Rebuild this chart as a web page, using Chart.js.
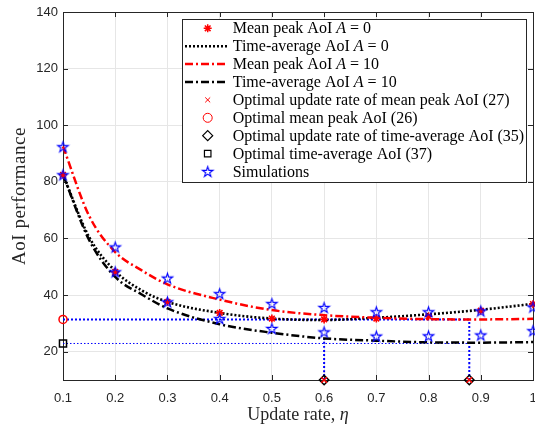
<!DOCTYPE html>
<html>
<head>
<meta charset="utf-8">
<script src="https://cdn.jsdelivr.net/npm/chart.js@4.4.1/dist/chart.umd.min.js"></script>
<style>
  html, body { margin: 0; background: #fff; }
</style>
</head>
<body>
<canvas id="aoiChart" width="535" height="426"></canvas>
<script>
// ---------- 데이터 ----------
const etaTicks = [0.1, 0.2, 0.3, 0.4, 0.5, 0.6, 0.7, 0.8, 0.9, 1.0];
const aoiTicks = [20, 40, 60, 80, 100, 120, 140];
const aoiMin = 10;
const aoiMax = 140;

// 해석 곡선
const etaCurve = [0.1, 0.15, 0.2, 0.25, 0.3, 0.4, 0.5, 0.6, 0.7, 0.8, 0.9, 1.0];
const timeAvgA0 = [82.5, 60.5, 48.5, 41.7, 37.6, 33.7, 31.7, 31.2, 32.0, 33.2, 34.8, 36.9];
const meanPeakA10 = [92.5, 68.0, 55.2, 48.8, 43.8, 38.4, 34.7, 32.9, 32.0, 31.5, 31.4, 31.6];
const timeAvgA10 = [82.5, 59.5, 46.4, 40.3, 35.3, 29.7, 26.7, 24.7, 23.9, 23.3, 23.2, 23.4];

// 마커 (A = 0 평균 peak AoI, 시뮬레이션)
const etaSim = [0.1, 0.2, 0.3, 0.4, 0.5, 0.6, 0.7, 0.8, 0.9, 1.0];
const meanPeakA0 = [82.5, 48.2, 37.6, 33.7, 31.7, 31.4, 31.7, 32.5, 34.5, 36.8];
const simUpper = [92.4, 57.0, 46.0, 40.5, 37.0, 35.6, 34.1, 34.1, 34.4, 35.8];
const simLower = [82.5, 48.2, 37.6, 31.7, 28.2, 27.0, 25.5, 25.6, 25.9, 27.4];

// 최적점 보조선
const etaOpt = [0.6, 0.878];
const dropTop = [24.7, 31.4];
const optPeakAoI = 31.4;
const optTimeAvgAoI = 22.9;

const RED = '#ff0000';
const BLUE = '#0000ff';
const INK = '#262626';
const SERIF = '"Liberation Serif", "Times New Roman", serif';

const pts = (xs, ys) => xs.map((x, i) => ({ x, y: ys[i] }));

// 오각별 마커 (Chart.js 기본 star 는 별표 모양이라 직접 그림)
function makePentagram(r) {
  const c = document.createElement('canvas');
  const s = Math.ceil(r * 2 + 4);
  c.width = s; c.height = s;
  const g = c.getContext('2d');
  g.translate(s / 2, s / 2 + r * 0.1);
  g.beginPath();
  for (let i = 0; i < 10; i++) {
    const rr = i % 2 === 0 ? r : r * 0.382;
    const a = -Math.PI / 2 + i * Math.PI / 5;
    g.lineTo(rr * Math.cos(a), rr * Math.sin(a));
  }
  g.closePath();
  g.strokeStyle = BLUE;
  g.lineWidth = 1.1;
  g.stroke();
  return c;
}
const pentagram = makePentagram(5.5);

const DOTTED = [2, 2];
const DASHDOT = [8, 3, 2, 3];

function markerSet(label, data, style, color, radius, width) {
  return {
    label, data, showLine: false, clip: false,
    pointStyle: style, pointRadius: radius, pointBorderWidth: width,
    pointBorderColor: color, pointBackgroundColor: 'rgba(0,0,0,0)',
  };
}

function lineSet(label, data, color, width, dash) {
  return {
    label, data, showLine: true, clip: false,
    borderColor: color, borderWidth: width, borderDash: dash,
    pointRadius: 0, cubicInterpolationMode: 'monotone',
  };
}

// 위에 그릴 것부터 (index 0 이 가장 위)
const datasets = [
  markerSet('opt rate peak', etaOpt.map((x) => ({ x, y: aoiMin })), 'crossRot', RED, 4, 1.5),
  markerSet('opt rate avg', etaOpt.map((x) => ({ x, y: aoiMin })), 'rectRot', '#000', 4.7, 1.5),
  markerSet('opt peak', [{ x: etaTicks[0], y: optPeakAoI }], 'circle', RED, 4, 1.5),
  markerSet('opt avg', [{ x: etaTicks[0], y: optTimeAvgAoI }], 'rect', '#000', 5, 1.5),
  markerSet('sim upper', pts(etaSim, simUpper), pentagram, BLUE, 5, 1),
  markerSet('sim lower', pts(etaSim, simLower), pentagram, BLUE, 5, 1),
  markerSet('mean peak A0', pts(etaSim, meanPeakA0), 'star', RED, 4, 1.6),
  lineSet('mean peak A10', pts(etaCurve, meanPeakA10), RED, 2.5, DASHDOT),
  lineSet('time avg A0', pts(etaCurve, timeAvgA0), '#000', 2.6, DOTTED),
  lineSet('time avg A10', pts(etaCurve, timeAvgA10), '#000', 2.5, DASHDOT),
  lineSet('h peak', [{ x: etaTicks[0], y: optPeakAoI }, { x: etaOpt[1], y: optPeakAoI }], BLUE, 2, [2, 2]),
  lineSet('h avg', [{ x: etaTicks[0], y: optTimeAvgAoI }, { x: etaOpt[1], y: optTimeAvgAoI }], BLUE, 1, [1.5, 2]),
  lineSet('v 1', [{ x: etaOpt[0], y: aoiMin }, { x: etaOpt[0], y: dropTop[0] }], BLUE, 2, [2, 2]),
  lineSet('v 2', [{ x: etaOpt[1], y: aoiMin }, { x: etaOpt[1], y: dropTop[1] }], BLUE, 2, [2, 2]),
];

// ---------- 범례 항목 ----------
const legendRows = [
  { marker: ['star', RED, 4, 1.5], text: [['Mean peak AoI ', 0], ['A', 1], [' = 0', 0]] },
  { line: ['#000', 2.6, DOTTED], text: [['Time-average AoI ', 0], ['A', 1], [' = 0', 0]] },
  { line: [RED, 2.5, DASHDOT], text: [['Mean peak AoI ', 0], ['A', 1], [' = 10', 0]] },
  { line: ['#000', 2.5, DASHDOT], text: [['Time-average AoI ', 0], ['A', 1], [' = 10', 0]] },
  { marker: ['crossRot', RED, 3.5, 1], text: [['Optimal update rate of mean peak AoI (27)', 0]] },
  { marker: ['circle', RED, 4.5, 1], text: [['Optimal mean peak AoI (26)', 0]] },
  { marker: ['rectRot', '#000', 5, 1.2], text: [['Optimal update rate of time-average AoI (35)', 0]] },
  { marker: ['rect', '#000', 4.6, 1.2], text: [['Optimal time-average AoI (37)', 0]] },
  { marker: [pentagram, BLUE, 5, 1], text: [['Simulations', 0]] },
];

function richWidth(ctx, parts, size) {
  let w = 0;
  parts.forEach(([t, it]) => {
    ctx.font = (it ? 'italic ' : '') + size + 'px ' + SERIF;
    w += ctx.measureText(t).width;
  });
  return w;
}

function drawRich(ctx, parts, x, y, size) {
  parts.forEach(([t, it]) => {
    ctx.font = (it ? 'italic ' : '') + size + 'px ' + SERIF;
    ctx.fillText(t, x, y);
    x += ctx.measureText(t).width;
  });
}

// ---------- 축 박스 + 안쪽 눈금 ----------
const axesBox = {
  id: 'axesBox',
  beforeDatasetsDraw(chart) {
    const { ctx, chartArea: a, scales } = chart;
    ctx.save();
    ctx.strokeStyle = INK;
    ctx.lineWidth = 1;
    ctx.beginPath();
    etaTicks.forEach((v) => {
      const px = Math.round(scales.x.getPixelForValue(v)) + 0.5;
      ctx.moveTo(px, a.bottom); ctx.lineTo(px, a.bottom - 5);
      ctx.moveTo(px, a.top); ctx.lineTo(px, a.top + 5);
    });
    aoiTicks.forEach((v) => {
      const py = Math.round(scales.y.getPixelForValue(v)) + 0.5;
      ctx.moveTo(a.left, py); ctx.lineTo(a.left + 5, py);
      ctx.moveTo(a.right, py); ctx.lineTo(a.right - 5, py);
    });
    ctx.stroke();
    ctx.strokeRect(Math.round(a.left) + 0.5, Math.round(a.top) + 0.5,
      Math.round(a.right - a.left), Math.round(a.bottom - a.top));
    ctx.restore();
  },
};

// ---------- 범례, 축 제목 ----------
const overlay = {
  id: 'overlay',
  afterDraw(chart) {
    const ctx = chart.ctx;
    const { drawPoint } = Chart.helpers;
    ctx.save();

    // 범례 상자
    const bx = 182, by = 19, bw = 344, bh = 163;
    ctx.fillStyle = '#fff';
    ctx.fillRect(bx, by, bw, bh);
    ctx.strokeStyle = INK;
    ctx.lineWidth = 1;
    ctx.strokeRect(bx + 0.5, by + 0.5, bw, bh);

    legendRows.forEach((row, i) => {
      const cy = 28.3 + i * 17.9;
      if (row.line) {
        const [color, width, dash] = row.line;
        ctx.strokeStyle = color;
        ctx.lineWidth = width;
        ctx.setLineDash(dash);
        ctx.beginPath();
        ctx.moveTo(185, cy); ctx.lineTo(227, cy);
        ctx.stroke();
        ctx.setLineDash([]);
      } else {
        const [style, color, radius, width] = row.marker;
        ctx.strokeStyle = color;
        ctx.fillStyle = 'rgba(0,0,0,0)';
        ctx.lineWidth = width;
        drawPoint(ctx, { pointStyle: style, radius, rotation: 0, borderWidth: width }, 207.7, cy);
      }
      ctx.fillStyle = '#000';
      ctx.textAlign = 'left';
      ctx.textBaseline = 'alphabetic';
      drawRich(ctx, row.text, 232.7, cy + 5, 16);
    });

    // x 축 제목
    const a = chart.chartArea;
    const xTitle = [['Update rate, ', 0], ['η', 1]];
    ctx.fillStyle = INK;
    const xw = richWidth(ctx, xTitle, 18);
    drawRich(ctx, xTitle, (a.left + a.right) / 2 - xw / 2, 420, 18);

    // y 축 제목
    ctx.translate(25, (a.top + a.bottom) / 2);
    ctx.rotate(-Math.PI / 2);
    ctx.letterSpacing = '0.5px';
    ctx.font = '19px ' + SERIF;
    ctx.textAlign = 'center';
    ctx.fillText('AoI performance', 0, 0);
    ctx.restore();
  },
};

const tickFont = { family: '"Liberation Sans", Arial, Helvetica, sans-serif', size: 13 };

new Chart(document.getElementById('aoiChart'), {
  type: 'line',
  data: { datasets },
  options: {
    responsive: false,
    animation: false,
    events: [],
    layout: { autoPadding: false, padding: { top: 12, right: 2, left: 0, bottom: 0 } },
    plugins: { legend: { display: false }, tooltip: { enabled: false } },
    scales: {
      x: {
        type: 'linear',
        min: etaTicks[0],
        max: etaTicks[etaTicks.length - 1],
        afterBuildTicks: (s) => { s.ticks = etaTicks.map((value) => ({ value })); },
        afterFit: (s) => { s.height = 46; s.paddingLeft = 0; s.paddingRight = 0; },
        grid: { color: '#e6e6e6', drawTicks: false },
        border: { display: false },
        ticks: {
          font: tickFont, color: INK, padding: 11, maxRotation: 0,
          callback: (v) => (v === 1 ? '1' : v.toFixed(1)),
        },
      },
      y: {
        type: 'linear',
        min: aoiMin,
        max: aoiMax,
        afterBuildTicks: (s) => { s.ticks = aoiTicks.map((value) => ({ value })); },
        afterFit: (s) => { s.width = 63; s.paddingTop = 0; s.paddingBottom = 0; },
        grid: { color: '#e6e6e6', drawTicks: false },
        border: { display: false },
        ticks: { font: tickFont, color: INK, padding: 5 },
      },
    },
  },
  plugins: [axesBox, overlay],
});
</script>
</body>
</html>
